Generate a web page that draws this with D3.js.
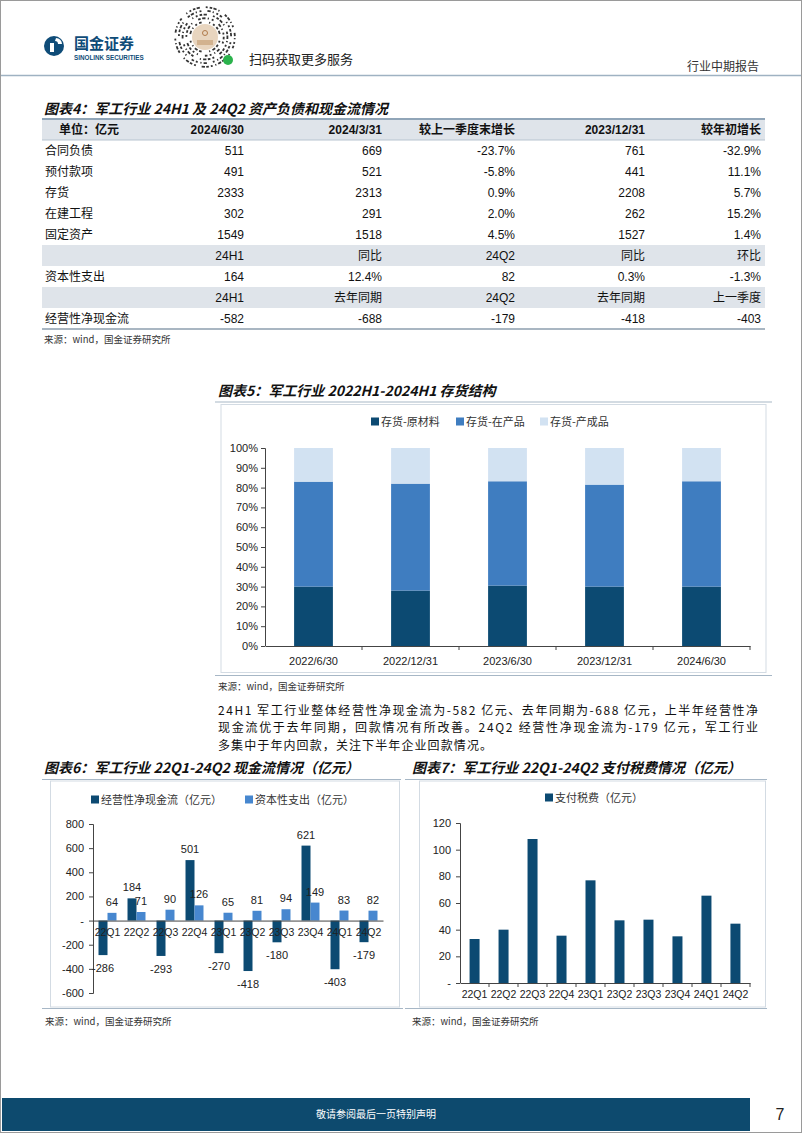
<!DOCTYPE html>
<html><head><meta charset="utf-8">
<script src="https://cdn.jsdelivr.net/npm/d3@7"></script>
<style>
html,body{margin:0;padding:0;background:#fff;}
svg{display:block;}
</style></head>
<body>
<svg id="page" width="802" height="1133"></svg>
<script>
// ---------------- DATA ----------------
const tableHeader = ["单位：亿元","2024/6/30","2024/3/31","较上一季度末增长","2023/12/31","较年初增长"];
const tableRows = [
  ["合同负债","511","669","-23.7%","761","-32.9%"],
  ["预付款项","491","521","-5.8%","441","11.1%"],
  ["存货","2333","2313","0.9%","2208","5.7%"],
  ["在建工程","302","291","2.0%","262","15.2%"],
  ["固定资产","1549","1518","4.5%","1527","1.4%"],
  ["","24H1","同比","24Q2","同比","环比"],
  ["资本性支出","164","12.4%","82","0.3%","-1.3%"],
  ["","24H1","去年同期","24Q2","去年同期","上一季度"],
  ["经营性净现金流","-582","-688","-179","-418","-403"]
];
const shadedRows = [5,7];

const invDates = ["2022/6/30","2022/12/31","2023/6/30","2023/12/31","2024/6/30"];
const invSeries = ["存货-原材料","存货-在产品","存货-产成品"];
const invRaw = [0.30,0.28,0.305,0.30,0.30];
const invWip = [0.53,0.54,0.527,0.515,0.532];
const invFin = [0.17,0.18,0.168,0.185,0.168];
const pctTicks = [0,0.1,0.2,0.3,0.4,0.5,0.6,0.7,0.8,0.9,1.0];

const quarters = ["22Q1","22Q2","22Q3","22Q4","23Q1","23Q2","23Q3","23Q4","24Q1","24Q2"];
const cfSeries = ["经营性净现金流（亿元）","资本性支出（亿元）"];
const opCash = [-286,184,-293,501,-270,-418,-180,621,-403,-179];
const capex = [64,71,90,126,65,81,94,149,83,82];
const cfTicks = [-600,-400,-200,0,200,400,600,800];

const taxSeries = ["支付税费（亿元）"];
const taxPaid = [33,40,108,35.5,77,47,47.5,35,65.5,44.5];
const taxTicks = [0,20,40,60,80,100,120];

const paragraph = [
  "24H1 军工行业整体经营性净现金流为-582 亿元、去年同期为-688 亿元，上半年经营性净",
  "现金流优于去年同期，回款情况有所改善。24Q2 经营性净现金流为-179 亿元，军工行业",
  "多集中于年内回款，关注下半年企业回款情况。"
];

// ---------------- STYLE ----------------
const CJK = "'Noto Sans CJK SC','Noto Sans',sans-serif";
const NUM = "'Liberation Sans',Arial,sans-serif";
const DARK = "#0c4a72", MID = "#3f7dc0", LIGHT = "#d2e2f2", CAPEX = "#4787cf";
const RULE = "#a7b7c6";

const svg = d3.select("#page");
svg.append("rect").attr("x",0.5).attr("y",0.5).attr("width",801).attr("height",1132)
  .attr("fill","#fff").attr("stroke","#9a9a9a");

// ---------------- HEADER ----------------
const hdr = svg.append("g");
hdr.append("circle").attr("cx",54).attr("cy",46).attr("r",10).attr("fill","#0f4c78");
hdr.append("path").attr("d","M56,38 a6,6 0 0 1 6,6 l-4,0 a3,3 0 0 0 -3,-3 z").attr("fill","#fff");
hdr.append("rect").attr("x",50).attr("y",43).attr("width",4).attr("height",9).attr("fill","#fff");
hdr.append("text").attr("x",74).attr("y",49).attr("font-family",CJK).attr("font-weight","bold")
  .attr("font-size",15).attr("fill","#0f4c78").text("国金证券");
hdr.append("text").attr("x",74).attr("y",59.5).attr("font-family",NUM).attr("font-weight","bold")
  .attr("font-size",6.3).attr("fill","#0f4c78").text("SINOLINK SECURITIES");
// mini-program code (decorative)
const qr = hdr.append("g").attr("transform","translate(205,37)");
qr.append("circle").attr("r",31).attr("fill","#fff");
for (let ring=0; ring<5; ring++){
  const r = 15 + ring*3.7;
  const n = 20 + ring*6;
  for (let k=0;k<n;k++){
    if (((k*7+ring*3)%5)===0) continue;
    const a = (k/n)*Math.PI*2 + ring*0.3;
    const len = 1.2 + ((k*13+ring*5)%4)*0.7;
    qr.append("rect").attr("x",-0.9).attr("y",-len/2).attr("width",1.8).attr("height",len)
      .attr("fill","#333")
      .attr("transform",`translate(${(r*Math.cos(a)).toFixed(2)},${(r*Math.sin(a)).toFixed(2)}) rotate(${(a*180/Math.PI).toFixed(1)})`);
  }
}
qr.append("circle").attr("r",13).attr("fill","#e8d5bf");
qr.append("circle").attr("cy",-4).attr("r",2.5).attr("fill","none").attr("stroke","#b07a4a").attr("stroke-width",1);
qr.append("rect").attr("x",-8).attr("y",3).attr("width",16).attr("height",5).attr("fill","#d2b28f");
qr.append("circle").attr("cx",23).attr("cy",23).attr("r",5).attr("fill","#2bb24c");
hdr.append("text").attr("x",249).attr("y",64).attr("font-family",CJK).attr("font-size",13).attr("fill","#222").text("扫码获取更多服务");
hdr.append("text").attr("x",759).attr("y",71).attr("text-anchor","end").attr("font-family",CJK).attr("font-size",12).attr("fill","#333").text("行业中期报告");
svg.append("line").attr("x1",1).attr("x2",801).attr("y1",75.5).attr("y2",75.5).attr("stroke","#9fb2c2").attr("stroke-width",1.5);

// helpers
function title(x,y,t){
  svg.append("text").attr("x",x).attr("y",y).attr("font-family",CJK).attr("font-weight","bold")
    .attr("font-style","italic").attr("font-size",14).attr("fill","#111").text(t);
}
function source(x,y,t){
  svg.append("text").attr("x",x).attr("y",y).attr("font-family",CJK).attr("font-size",9.5).attr("fill","#333").text(t);
}
function hline(x1,x2,y,w,c){
  svg.append("line").attr("x1",x1).attr("x2",x2).attr("y1",y).attr("y2",y).attr("stroke",c||RULE).attr("stroke-width",w||1);
}

// ---------------- TABLE ----------------
title(44,114,"图表4：军工行业 24H1 及 24Q2 资产负债和现金流情况");
const tbl = svg.append("g");
const rowH = 21, tTop = 119, tLeft = 42, tRight = 765;
const colRight = [null,244,382,515,645,761];
const rowY = d3.scaleLinear().domain([0,1]).range([tTop, tTop+rowH]);
tbl.append("rect").attr("x",tLeft).attr("y",rowY(0)).attr("width",tRight-tLeft).attr("height",rowH).attr("fill","#dfe4ea");
shadedRows.forEach(i=>{
  tbl.append("rect").attr("x",tLeft).attr("y",rowY(i+1)).attr("width",tRight-tLeft).attr("height",rowH).attr("fill","#dfe4ea");
});
hline(tLeft,tRight,tTop,2,"#90a5b8");
hline(tLeft,tRight,rowY(1),1,"#b7c4d0");
hline(tLeft,tRight,rowY(tableRows.length+1),2,"#a9b6c2");
function cellFont(t){ return /[\u4e00-\u9fff]/.test(t) ? CJK : NUM; }
tableHeader.forEach((t,j)=>{
  tbl.append("text").attr("x", j===0?59:colRight[j]).attr("y",rowY(0.5)+4.5)
    .attr("text-anchor", j===0?"start":"end").attr("font-family",cellFont(t))
    .attr("font-weight","bold").attr("font-size",12).attr("fill","#111").text(t);
});
tableRows.forEach((r,i)=>{
  r.forEach((t,j)=>{
    if(!t) return;
    tbl.append("text").attr("x", j===0?45:colRight[j]).attr("y",rowY(i+1.5)+4.5)
      .attr("text-anchor", j===0?"start":"end").attr("font-family",cellFont(t))
      .attr("font-size",12).attr("fill","#111").text(t);
  });
});
source(44,343,"来源：wind，国金证券研究所");

// ---------------- CHART 5 ----------------
title(218,396,"图表5：军工行业 2022H1-2024H1 存货结构");
hline(215,772,402,1.2);
svg.append("rect").attr("x",221).attr("y",404.5).attr("width",545).attr("height",268).attr("fill","none").attr("stroke","#d3dbe3");
hline(215,772,675.5,1.2);
source(218,690,"来源：wind，国金证券研究所");
{
  const g = svg.append("g");
  const x = d3.scaleBand().domain(invDates).range([265,750]).paddingInner(0.6).paddingOuter(0.3);
  const xb = d3.scaleBand().domain(invDates).range([265,750]);
  const y = d3.scaleLinear().domain([0,1]).range([646,448]);
  const rows = invDates.map((d,i)=>({date:d,"存货-原材料":invRaw[i],"存货-在产品":invWip[i],"存货-产成品":invFin[i]}));
  const stack = d3.stack().keys(invSeries)(rows);
  const color = d3.scaleOrdinal().domain(invSeries).range([DARK,MID,LIGHT]);
  g.selectAll("g.s").data(stack).join("g").attr("fill",s=>color(s.key))
    .selectAll("rect").data(s=>s).join("rect")
    .attr("x",d=>x(d.data.date)).attr("width",x.bandwidth())
    .attr("y",d=>y(Math.min(1,d[1]))).attr("height",d=>y(d[0])-y(Math.min(1,d[1])));
  const ya = g.append("g").attr("transform","translate(265,0)")
    .call(d3.axisLeft(y).tickValues(pctTicks).tickFormat(d3.format(".0%")).tickSize(4).tickPadding(3));
  ya.select(".domain").attr("stroke","#444").attr("d","M-4,448.5H0.5V646");
  ya.selectAll(".tick line").attr("stroke","#444");
  ya.selectAll("text").attr("font-family",NUM).attr("font-size",11).attr("fill","#222");
  const xa = g.append("g").attr("transform","translate(0,646)")
    .call(d3.axisBottom(xb).tickSize(0).tickPadding(11));
  xa.select(".domain").attr("stroke","#444");
  xa.selectAll("text").attr("font-family",NUM).attr("font-size",11).attr("fill","#222");
  g.selectAll("line.bt").data(invDates).join("line")
    .attr("x1",(d,i)=>xb.range()[0]+xb.step()*(i+1)).attr("x2",(d,i)=>xb.range()[0]+xb.step()*(i+1))
    .attr("y1",646).attr("y2",650).attr("stroke","#444");
  const lg = g.append("g").attr("transform","translate(371,422)");
  const lx = [0,85,169];
  invSeries.forEach((s,i)=>{
    lg.append("rect").attr("x",lx[i]).attr("y",-4.5).attr("width",8).attr("height",8).attr("fill",color(s));
    lg.append("text").attr("x",lx[i]+10).attr("y",4).attr("font-family",CJK).attr("font-size",11).attr("fill","#333").text(s);
  });
}

// ---------------- PARAGRAPH ----------------
paragraph.forEach((t,i)=>{
  const tx = svg.append("text").attr("x",218).attr("y",715+i*17.3).attr("font-family",CJK)
    .attr("font-size",12).attr("fill","#111").text(t);
  if(i<2) tx.attr("textLength",540).attr("lengthAdjust","spacing");
  else tx.attr("letter-spacing",1.1);
});

// ---------------- CHART 6 ----------------
title(44,773,"图表6：军工行业 22Q1-24Q2 现金流情况（亿元）");
hline(42,401,779.5,1.2);
svg.append("rect").attr("x",50.5).attr("y",781).attr("width",349).attr("height",226).attr("fill","none").attr("stroke","#d3dbe3");
hline(42,403,1008.5,1.2);
source(45,1025,"来源：wind，国金证券研究所");
{
  const g = svg.append("g");
  const x = d3.scaleBand().domain(quarters).range([93,383]);
  const xs = d3.scaleBand().domain(cfSeries).range([x.bandwidth()*0.19, x.bandwidth()*0.81]);
  const y = d3.scaleLinear().domain([-600,800]).range([993,824]);
  const color = d3.scaleOrdinal().domain(cfSeries).range([DARK,CAPEX]);
  const data = quarters.map((q,i)=>[{q,s:cfSeries[0],v:opCash[i]},{q,s:cfSeries[1],v:capex[i]}]).flat();
  g.selectAll("rect.b").data(data).join("rect")
    .attr("x",d=>x(d.q)+xs(d.s)).attr("width",xs.bandwidth())
    .attr("y",d=>y(Math.max(0,d.v))).attr("height",d=>Math.abs(y(d.v)-y(0)))
    .attr("fill",d=>color(d.s));
  const ya = g.append("g").attr("transform","translate(93,0)")
    .call(d3.axisLeft(y).tickValues(cfTicks).tickFormat(d=>d===0?"-":d).tickSize(4).tickPadding(5));
  ya.select(".domain").attr("stroke","#444").attr("d","M-4,824.5H0.5V993.5H-4");
  ya.selectAll(".tick line").attr("stroke","#444");
  ya.selectAll("text").attr("font-family",NUM).attr("font-size",11).attr("fill","#222");
  const xa = g.append("g").attr("transform",`translate(0,${y(0)})`)
    .call(d3.axisBottom(x).tickSize(0).tickPadding(8));
  xa.select(".domain").attr("stroke","#444");
  xa.selectAll("text").attr("font-family",NUM).attr("font-size",10.5).attr("fill","#222");
  g.selectAll("text.lbl").data(data).join("text")
    .attr("x",d=>x(d.q)+xs(d.s)+xs.bandwidth()/2)
    .attr("y",d=>d.v>=0? y(d.v)-7 : y(d.v)+17)
    .attr("text-anchor","middle").attr("font-family",NUM).attr("font-size",11).attr("fill","#222")
    .text(d=>d.v);
  const lg = g.append("g").attr("transform","translate(91,800)");
  const lx = [0,154];
  cfSeries.forEach((s,i)=>{
    lg.append("rect").attr("x",lx[i]).attr("y",-4.5).attr("width",8).attr("height",8).attr("fill",color(s));
    lg.append("text").attr("x",lx[i]+10).attr("y",4).attr("font-family",CJK).attr("font-size",11).attr("fill","#333").text(s);
  });
}

// ---------------- CHART 7 ----------------
title(412,773,"图表7：军工行业 22Q1-24Q2 支付税费情况（亿元）");
hline(405,767,779.5,1.2);
svg.append("rect").attr("x",419.5).attr("y",781).attr("width",346).attr("height",226).attr("fill","none").attr("stroke","#d3dbe3");
hline(405,767,1008.5,1.2);
source(412,1025,"来源：wind，国金证券研究所");
{
  const g = svg.append("g");
  const xb = d3.scaleBand().domain(quarters).range([460,750]);
  const x = d3.scaleBand().domain(quarters).range([460,750]).paddingInner(0.655).paddingOuter(0.33);
  const y = d3.scaleLinear().domain([0,120]).range([983,823]);
  g.selectAll("rect.b").data(taxPaid).join("rect")
    .attr("x",(d,i)=>x(quarters[i])).attr("width",x.bandwidth())
    .attr("y",d=>y(d)).attr("height",d=>y(0)-y(d)).attr("fill",DARK);
  const ya = g.append("g").attr("transform","translate(460,0)")
    .call(d3.axisLeft(y).tickValues(taxTicks).tickFormat(d=>d===0?"-":d).tickSize(4).tickPadding(5));
  ya.select(".domain").attr("stroke","#444").attr("d","M-4,823.5H0.5V983");
  ya.selectAll(".tick line").attr("stroke","#444");
  ya.selectAll("text").attr("font-family",NUM).attr("font-size",11).attr("fill","#222");
  const xa = g.append("g").attr("transform","translate(0,983)")
    .call(d3.axisBottom(xb).tickSize(0).tickPadding(8));
  xa.select(".domain").attr("stroke","#444");
  xa.selectAll("text").attr("font-family",NUM).attr("font-size",10.5).attr("fill","#222");
  g.selectAll("line.bt").data(quarters).join("line")
    .attr("x1",(d,i)=>xb.range()[0]+xb.step()*(i+1)).attr("x2",(d,i)=>xb.range()[0]+xb.step()*(i+1))
    .attr("y1",983).attr("y2",987).attr("stroke","#444");
  const lg = g.append("g").attr("transform","translate(545,798)");
  lg.append("rect").attr("x",0).attr("y",-4.5).attr("width",8).attr("height",8).attr("fill",DARK);
  lg.append("text").attr("x",10).attr("y",4).attr("font-family",CJK).attr("font-size",11).attr("fill","#333").text(taxSeries[0]);
}

// ---------------- FOOTER ----------------
svg.append("rect").attr("x",2).attr("y",1098).attr("width",748).attr("height",33).attr("fill","#0d4a6e");
svg.append("text").attr("x",376).attr("y",1118).attr("text-anchor","middle").attr("font-family",CJK)
  .attr("font-size",10).attr("fill","#fff").text("敬请参阅最后一页特别声明");
svg.append("text").attr("x",780).attr("y",1120).attr("text-anchor","middle").attr("font-family",NUM)
  .attr("font-size",16).attr("fill","#222").text("7");
</script>
</body></html>
